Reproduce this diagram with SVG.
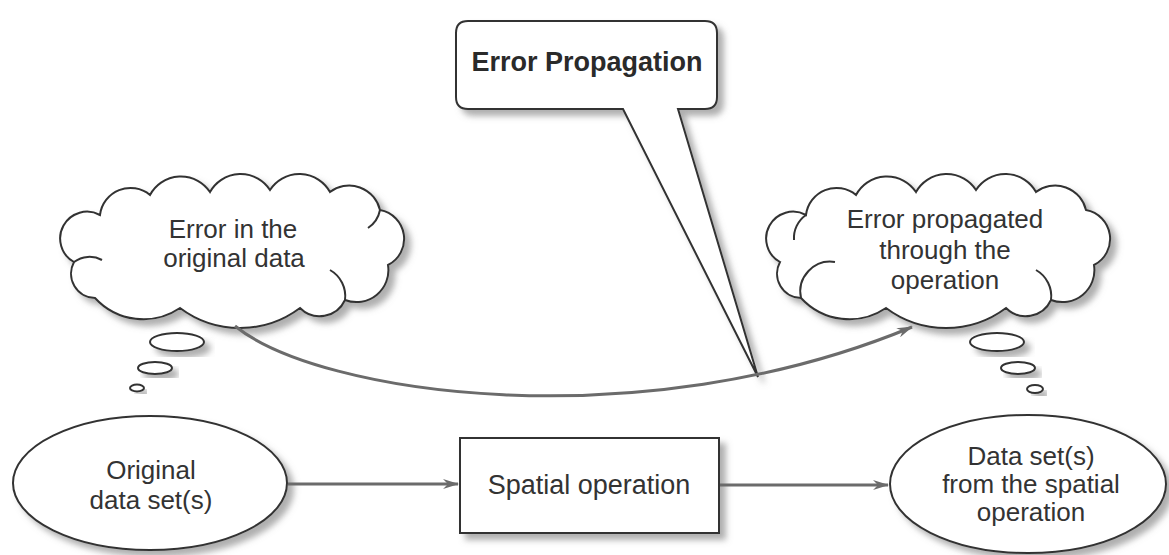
<svg xmlns="http://www.w3.org/2000/svg" width="1169" height="555" viewBox="0 0 1169 555">
<style>
.txt{font-family:"Liberation Sans",Arial,sans-serif;font-size:26px;fill:#333;text-anchor:middle}
.bold{font-weight:bold;font-size:27px;fill:#2a2a2a}
.shape{fill:#fff;stroke:#333;stroke-width:2;filter:url(#sh)}
.curl{fill:none;stroke:#333;stroke-width:2}
.conn{fill:none;stroke:#6b6b6b;stroke-width:3}
</style>
<defs>
<filter id="sh" x="-10%" y="-10%" width="130%" height="140%">
<feGaussianBlur in="SourceAlpha" stdDeviation="3"/>
<feOffset dx="6" dy="6" result="b"/>
<feFlood flood-color="#7a7a7a" flood-opacity="0.6"/>
<feComposite in2="b" operator="in"/>
<feMerge><feMergeNode/><feMergeNode in="SourceGraphic"/></feMerge>
</filter>
<marker id="ah" viewBox="0 0 16 10" refX="15" refY="5" markerWidth="16" markerHeight="10" markerUnits="userSpaceOnUse" orient="auto">
<path d="M0,0 L16,5 L0,10 L5,5 Z" fill="#6b6b6b"/>
</marker>
<path id="cloud" d="M 100,215 A 30.7,30.7 0 0 1 150,195 A 35,35 0 0 1 210,192 A 35,35 0 0 1 270,190 A 35,35 0 0 1 330,192 A 31.7,31.7 0 0 1 380,210 A 29.3,29.3 0 0 1 388,265 A 32,32 0 0 1 345,300 A 27.8,27.8 0 0 1 300,308 A 100,100 0 0 1 180,308 A 65.6,65.6 0 0 1 95,298 A 24.4,24.4 0 0 1 74,262 A 24,24 0 0 1 100,215 Z"/>
</defs>
<rect width="1169" height="555" fill="#fff"/>

<g id="callout">
<path class="shape" d="M 468,21 H 705 Q 717,21 717,33 V 97 Q 717,109 705,109 H 678 L 758,377 L 623,109 H 468 Q 456,109 456,97 V 33 Q 456,21 468,21 Z"/>
<text class="txt bold" x="587" y="71">Error Propagation</text>
</g>

<g id="cloud-left">
<use href="#cloud" class="shape"/>
<path class="curl" d="M 74,262 A 26,26 0 0 1 102,260"/>
<path class="curl" d="M 345,300 A 30,30 0 0 0 330,270"/>
<path class="curl" d="M 380,210 A 28,28 0 0 1 368,228"/>
<text class="txt" x="233" y="238">Error in the</text>
<text class="txt" x="234" y="267">original data</text>
</g>
<g id="bubbles-left">
<ellipse class="shape" cx="177" cy="342" rx="27" ry="9"/>
<ellipse class="shape" cx="155" cy="368" rx="17" ry="6"/>
<ellipse class="shape" cx="137" cy="388" rx="7" ry="3.5"/>
</g>

<g id="cloud-right">
<use href="#cloud" class="shape" transform="translate(706,0)"/>
<path class="curl" d="M 801,298 A 30,30 0 0 1 835,262"/>
<path class="curl" d="M 1051,300 A 30,30 0 0 0 1036,270"/>
<path class="curl" d="M 806,215 A 28,28 0 0 0 794,240"/>
<text class="txt" x="945" y="228">Error propagated</text>
<text class="txt" x="945" y="259">through the</text>
<text class="txt" x="945" y="289">operation</text>
</g>
<g id="bubbles-right">
<ellipse class="shape" cx="997" cy="342" rx="27" ry="9"/>
<ellipse class="shape" cx="1018" cy="368" rx="17" ry="6"/>
<ellipse class="shape" cx="1035" cy="389" rx="8" ry="4"/>
</g>

<g id="original">
<ellipse class="shape" cx="150" cy="483" rx="137" ry="67"/>
<text class="txt" x="151" y="479">Original</text>
<text class="txt" x="151" y="509">data set(s)</text>
</g>

<g id="spatial-op">
<rect class="shape" x="460" y="438" width="259" height="95" stroke-width="2.5"/>
<text class="txt" x="589" y="494" style="font-size:27px">Spatial operation</text>
</g>

<g id="result">
<ellipse class="shape" cx="1028" cy="484" rx="138" ry="69"/>
<text class="txt" x="1031" y="465">Data set(s)</text>
<text class="txt" x="1031" y="493">from the spatial</text>
<text class="txt" x="1031" y="521">operation</text>
</g>

<g id="connectors">
<path class="conn" d="M 288,484 H 458" marker-end="url(#ah)"/>
<path class="conn" d="M 720,485 H 888" marker-end="url(#ah)"/>
<path class="conn" stroke-width="2.5" d="M 235,326 C 320,395 640,440 912,327" marker-end="url(#ah)"/>
</g>
</svg>
